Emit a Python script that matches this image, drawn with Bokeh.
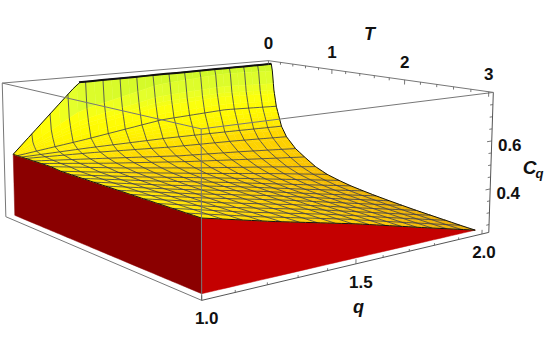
import numpy as np
from bokeh.plotting import figure
from bokeh.models import Range1d
from bokeh.embed import file_html
from bokeh.resources import INLINE
from bokeh.core.properties import value

# ---- data ----
q_cols = [1.0, 1.22, 1.5, 1.75, 1.97]
T_rows = [0.03, 0.05, 0.08, 0.125, 0.22, 0.31, 0.47, 0.625, 0.81, 1.0, 1.19, 1.375, 1.56, 1.75, 1.94, 2.12, 2.31, 2.5, 2.69, 2.87, 3.05]
Cq_q100 = [0.505, 0.505, 0.505, 0.505, 0.505, 0.505, 0.505, 0.505, 0.505, 0.50, 0.50, 0.50, 0.50, 0.50, 0.50, 0.50, 0.50, 0.50, 0.50, 0.50, 0.50]
Cq_q122 = [0.785, 0.66, 0.60, 0.535, 0.505, 0.49, 0.475, 0.465, 0.458, 0.452, 0.449, 0.447, 0.445, 0.444, 0.443, 0.442, 0.441, 0.44, 0.44, 0.44, 0.44]
Cq_q150 = [0.785, 0.74, 0.66, 0.58, 0.50, 0.465, 0.435, 0.42, 0.405, 0.395, 0.39, 0.385, 0.382, 0.38, 0.378, 0.376, 0.374, 0.373, 0.372, 0.371, 0.37]
Cq_q175 = [0.785, 0.76, 0.67, 0.59, 0.49, 0.45, 0.41, 0.385, 0.362, 0.346, 0.335, 0.327, 0.321, 0.317, 0.314, 0.311, 0.308, 0.306, 0.304, 0.302, 0.30]
Cq_q197 = [0.785, 0.75, 0.655, 0.575, 0.48, 0.433, 0.385, 0.355, 0.322, 0.30, 0.287, 0.277, 0.27, 0.264, 0.259, 0.255, 0.251, 0.248, 0.245, 0.242, 0.24]
Cq_base = 0.24
T_mesh = [0.125, 0.22, 0.31, 0.47, 0.625, 0.81, 1.0, 1.19, 1.375, 1.56, 1.75, 1.94, 2.12, 2.31, 2.5, 2.69, 2.87]
q_mesh_count = 15
T_ticks_major = [0, 1, 2, 3]
q_ticks_major = [1.0, 1.5, 2.0]
z_ticks_major = [0.4, 0.6]

# ---- box and camera ----
q0, q1, T0, T1, z0, z1 = 1.0, 2.03, 0.0, 3.05, 0.217, 0.80
corners3d = [(q0, T0, z1), (q1, T0, z1), (q1, T1, z1), (q0, T1, z1), (q0, T0, z0), (q0, T1, z0), (q1, T1, z0)]
corners2d = [(2, 83), (268, 60), (493, 92), (200, 128), (5, 216), (202, 300), (488, 232)]

def norm(q, T, z):
    return (np.asarray(q, float) - q0) / (q1 - q0), (np.asarray(T, float) - T0) / (T1 - T0), (np.asarray(z, float) - z0) / (z1 - z0)

rows = []
for (a, b, c), (x, y) in zip(corners3d, corners2d):
    u, v, w = norm(a, b, c)
    rows.append([u, v, w, 1, 0, 0, 0, 0, -x * u, -x * v, -x * w, -x])
    rows.append([0, 0, 0, 0, u, v, w, 1, -y * u, -y * v, -y * w, -y])
P = np.linalg.svd(np.array(rows, float))[2][-1].reshape(3, 4)

def proj(q, T, z):
    u, v, w = norm(q, T, z)
    d = P[2, 0] * u + P[2, 1] * v + P[2, 2] * w + P[2, 3]
    return (P[0, 0] * u + P[0, 1] * v + P[0, 2] * w + P[0, 3]) / d, (P[1, 0] * u + P[1, 1] * v + P[1, 2] * w + P[1, 3]) / d

def proj_s(q, T, z):
    # the surface sits a little inside the box, unevenly
    q = np.asarray(q, float)
    T = np.asarray(T, float)
    a = (q - 1.0) / (q_cols[-1] - 1.0)
    s = (T - T_rows[0]) / (T_rows[-1] - T_rows[0])
    return proj(1.0 + a * (1.035 - 0.065 * s), T + 0.15 * (1 - a) * (1 - s) ** 3, z)

table = np.array([Cq_q100, Cq_q122, Cq_q150, Cq_q175, Cq_q197])

def Cq(q, T):
    col = [np.interp(T, T_rows, c) for c in table]
    return float(np.interp(q, q_cols, col))

z_anchor = [0.24, 0.33, 0.45, 0.50, 0.56, 0.62, 0.70, 0.785]
r_anchor = [232, 250, 255, 255, 255, 255, 228, 205]
g_anchor = [170, 195, 215, 235, 250, 255, 255, 248]
b_anchor = [0, 0, 0, 0, 0, 10, 45, 40]

def colour(z):
    return "#%02x%02x%02x" % (int(np.interp(z, z_anchor, r_anchor)), int(np.interp(z, z_anchor, g_anchor)), int(np.interp(z, z_anchor, b_anchor)))

p = figure(width=545, height=350, x_range=Range1d(0, 545), y_range=Range1d(350, 0),
           output_backend="svg", toolbar_location=None, min_border=0,
           styles={"position": "absolute", "left": "0px", "top": "0px"})
p.axis.visible = False
p.grid.visible = False
p.outline_line_color = None

BOX = "#777777"

def seg(a, b, color=BOX, width=1.0):
    x, y = proj([a[0], b[0]], [a[1], b[1]], [a[2], b[2]])
    p.line(list(x), list(y), line_color=color, line_width=width)

# back edges
seg((q0, T0, z1), (q1, T0, z1))
seg((q1, T0, z1), (q1, T1, z1))

# walls
qs_line = np.linspace(1.0, q_cols[-1], 40)
Ts_line = np.linspace(T_rows[0], T_rows[-1], 60)
x1, y1 = proj_s(np.full(60, 1.0), Ts_line, [Cq(1.0, t) for t in Ts_line])
x2, y2 = proj_s(np.full(60, 1.0), Ts_line[::-1], np.full(60, Cq_base))
p.patch(list(x1) + list(x2), list(y1) + list(y2), fill_color="#8b0000", line_color="#8b0000", line_width=0.5)
z_front = np.array([Cq(a, T_rows[-1]) for a in qs_line])
x1, y1 = proj_s(qs_line, np.full(40, T_rows[-1]), z_front)
x2, y2 = proj_s(qs_line[::-1], np.full(40, T_rows[-1]), np.full(40, Cq_base))
p.patch(list(x1) + list(x2), list(y1) + list(y2), fill_color="#c40000", line_color="#c40000", line_width=0.5)

# surface, far cells first
q_f = np.linspace(1.0, q_cols[-1], 33)
T_f = np.unique(np.concatenate([np.array(T_rows), np.linspace(T_rows[0], 0.25, 12), np.linspace(0.25, T_rows[-1], 30)]))
xs, ys, cs = [], [], []
for j in range(len(T_f) - 1):
    for i in range(len(q_f) - 2, -1, -1):
        qq = [q_f[i], q_f[i + 1], q_f[i + 1], q_f[i]]
        tt = [T_f[j], T_f[j], T_f[j + 1], T_f[j + 1]]
        zz = [Cq(a, b) for a, b in zip(qq, tt)]
        xx, yy = proj_s(qq, tt, zz)
        xs.append(list(xx))
        ys.append(list(yy))
        cs.append(colour(sum(zz) / 4))
p.patches(xs, ys, fill_color=cs, line_color=cs, line_width=0.4)

# mesh
MESH = "#3a3c50"
for t in T_mesh:
    z = [Cq(a, t) for a in qs_line]
    x, y = proj_s(qs_line, np.full(40, t), z)
    p.line(list(x), list(y), line_color=MESH, line_width=0.9, line_alpha=0.9)
for k in range(1, q_mesh_count + 1):
    qm = 1.0 + k * (q_cols[-1] - 1.0) / (q_mesh_count + 1)
    z = [Cq(qm, a) for a in T_f]
    x, y = proj_s(np.full(len(T_f), qm), T_f, z)
    p.line(list(x), list(y), line_color=MESH, line_width=0.9, line_alpha=0.9)

# surface outline
def outline(q, T, width=1.0):
    z = [Cq(a, b) for a, b in zip(q, T)]
    x, y = proj_s(q, T, z)
    p.line(list(x), list(y), line_color="#111111", line_width=width)
outline(qs_line, np.full(40, T_rows[0]), 1.0)
qt = np.linspace(q_cols[1], q_cols[-1], 20)
outline(qt, np.full(20, T_rows[0]), 2.0)
outline(qs_line, np.full(40, T_rows[-1]), 1.0)
outline(np.full(len(T_f), q_cols[-1]), T_f, 1.0)
outline(np.full(len(T_f), 1.0), T_f, 1.0)

# front edges
seg((q0, T0, z1), (q0, T0, z0))
seg((q0, T0, z0), (q0, T1, z0))
seg((q0, T1, z0), (q1, T1, z0), "#555555")
seg((q1, T1, z0), (q1, T1, z1), "#555555")
seg((q0, T0, z1), (q0, T1, z1))
seg((q0, T1, z1), (q1, T1, z1))
seg((q0, T1, z1), (q0, T1, z0))

# ticks
for k in range(0, 16):
    t = k * 0.2
    h = 0.035 if k % 5 == 0 else 0.02
    seg((q1, t, z1), (q1, t, z1 - h * (z1 - z0)), "#555555", 0.8)
for k in range(0, 11):
    q = 1.0 + k * 0.1
    h = 0.03 if k % 5 == 0 else 0.015
    seg((q, T1, z0), (q, T1, z0 + h * (z1 - z0)), "#555555", 0.8)
for k in range(1, 12):
    z = 0.2 + k * 0.05
    h = 0.02 if k % 4 == 0 else 0.012
    seg((q1, T1, z), (q1 - h * (q1 - q0), T1, z), "#555555", 0.8)

# labels
def label(x, y, s, size="17px", style="bold"):
    p.text([x], [y], text=[s], text_font=value("Liberation Sans"), text_font_size=size, text_font_style=style,
           text_align="center", text_baseline="middle", text_color="#111111")

for t, s in zip(T_ticks_major, ["0", "1", "2", "3"]):
    x, y = proj(q1, t, z1)
    label(float(x), float(y) - 18, s)
for q, s, dx in zip(q_ticks_major, ["1.0", "1.5", "2.0"], [5, 5, 2]):
    x, y = proj(q, T1, z0)
    label(float(x) + dx, float(y) + 18, s)
for z, s in zip(z_ticks_major, ["0.4", "0.6"]):
    x, y = proj(q1, T1, z)
    label(float(x) + 18, float(y) + 4, s)
label(369, 33, "T", "18px", "bold italic")
label(358, 306, "q", "18px", "bold italic")
label(529, 167, "C", "19px", "bold italic")
label(539, 173, "q", "13px", "bold italic")

open("out.html", "w").write(file_html(p, INLINE))
